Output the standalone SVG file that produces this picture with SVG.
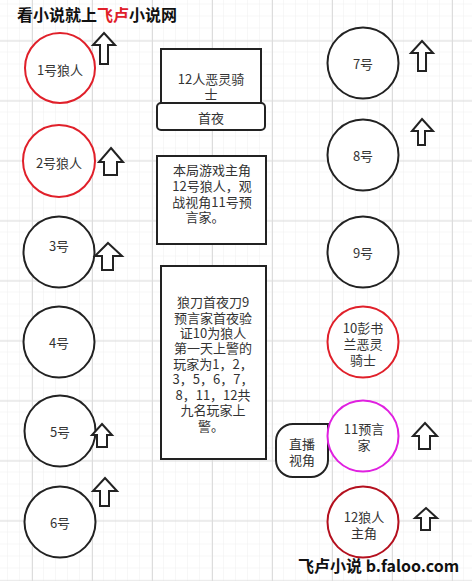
<svg xmlns="http://www.w3.org/2000/svg" width="472" height="581" viewBox="0 0 472 581">
<defs>
<pattern id="minor" width="12" height="12" patternUnits="userSpaceOnUse" x="8" y="4.5">
<path d="M12 0 V12 M0 12 H12" fill="none" stroke="#efefef" stroke-width="1"/>
</pattern>
<pattern id="major" width="60" height="60" patternUnits="userSpaceOnUse" x="32" y="40.5">
<path d="M0.5 0 V60 M0 0.5 H60" fill="none" stroke="#dcdcdc" stroke-width="1"/>
</pattern>
</defs>
<style>
.t{font-family:"Noto Sans CJK SC","Noto Sans",sans-serif;font-size:13px;fill:#333;text-anchor:middle;dominant-baseline:central}
.c{fill:#fff;stroke:#222;stroke-width:2}
.red{stroke:#e0202a}
.dred{stroke:#b4101e}
.mag{stroke:#e020e0}
.box{fill:#fff;stroke:#222;stroke-width:2}
.arr{fill:#fff;stroke:#222;stroke-width:2;stroke-linejoin:miter}
.title{font-family:"Noto Sans CJK SC",sans-serif;font-size:16px;font-weight:bold;fill:#111}
</style>
<rect width="472" height="581" fill="#fff"/>
<rect width="472" height="581" fill="url(#minor)"/>
<rect width="472" height="581" fill="url(#major)"/>

<text class="title" x="17" y="21">看小说就上<tspan fill="#e0202a">飞卢</tspan>小说网</text>

<g id="p1"><circle class="c red" cx="60" cy="68" r="35"/><text class="t" x="60" y="69">1号狼人</text></g>
<g id="p2"><circle class="c red" cx="59" cy="161" r="36"/><text class="t" x="59" y="162">2号狼人</text></g>
<g id="p3"><circle class="c" cx="59" cy="252" r="35.5"/><text class="t" x="59" y="245">3号</text></g>
<g id="p4"><circle class="c" cx="59" cy="342" r="35.5"/><text class="t" x="59" y="342">4号</text></g>
<g id="p5"><circle class="c" cx="60" cy="431" r="35.5"/><text class="t" x="60" y="431">5号</text></g>
<g id="p6"><circle class="c" cx="60" cy="522" r="35.5"/><text class="t" x="60" y="522">6号</text></g>

<g id="p7"><circle class="c" cx="363" cy="63" r="35.5"/><text class="t" x="363" y="63">7号</text></g>
<g id="p8"><circle class="c" cx="363" cy="155" r="35.5"/><text class="t" x="363" y="155">8号</text></g>
<g id="p9"><circle class="c" cx="363" cy="252" r="35.5"/><text class="t" x="363" y="252">9号</text></g>
<g id="p10"><circle class="c red" cx="363" cy="342" r="35.5"/><text class="t" x="363" y="327">10彭书</text><text class="t" x="363" y="343">兰恶灵</text><text class="t" x="363" y="359">骑士</text></g>
<g id="live"><path class="c" d="M328 424 L328 460 A17 17 0 0 1 311 477 L293 477 A17 17 0 0 1 276 460 L276 441 A17 17 0 0 1 293 424 Z"/><text class="t" x="302" y="443">直播</text><text class="t" x="302" y="459">视角</text></g>
<g id="p11"><circle class="c mag" cx="363" cy="436" r="35.5"/><text class="t" x="364" y="428">11预言</text><text class="t" x="364" y="444">家</text></g>
<g id="p12"><circle class="c dred" cx="363" cy="522" r="35.5"/><text class="t" x="364" y="516">12狼人</text><text class="t" x="364" y="532">主角</text></g>

<g id="boxA"><rect class="box" x="161" y="49" width="100" height="58"/><text class="t" x="211" y="78">12人恶灵骑</text><text class="t" x="211" y="93">士</text></g>
<g id="boxB"><rect class="box" x="157" y="103" width="108" height="27" rx="4"/><text class="t" x="211" y="117">首夜</text></g>
<g id="boxC"><rect class="box" x="157" y="156" width="109" height="88"/>
<text class="t" x="212" y="169">本局游戏主角</text>
<text class="t" x="212" y="185">12号狼人，观</text>
<text class="t" x="212" y="201">战视角11号预</text>
<text class="t" x="205" y="216">言家。</text></g>
<g id="boxD"><rect class="box" x="161" y="266" width="105" height="193"/>
<text class="t" x="213" y="301">狼刀首夜刀9</text>
<text class="t" x="213" y="317">预言家首夜验</text>
<text class="t" x="213" y="332">证10为狼人</text>
<text class="t" x="213" y="347">第一天上警的</text>
<text class="t" x="213" y="363">玩家为1，2，</text>
<text class="t" x="213" y="378">3，5，6，7，</text>
<text class="t" x="213" y="394">8，11，12共</text>
<text class="t" x="213" y="409">九名玩家上</text>
<text class="t" x="211" y="425">警。</text></g>

<g id="arrows">
<path class="arr" d="M104 33 L115 45 L108 45 L108 64 L100 64 L100 45 L93 45 Z"/>
<path class="arr" d="M111 148 L123 162 L117 162 L117 175 L104 175 L104 162 L99 162 Z"/>
<path class="arr" d="M108 243 L122 256 L113 256 L113 270 L102 270 L102 256 L95 256 Z"/>
<path class="arr" d="M102 424 L112 435 L107 435 L107 447 L97 447 L97 435 L92 435 Z"/>
<path class="arr" d="M105 478 L117 491 L109 491 L109 506 L100 506 L100 491 L93 491 Z"/>
<path class="arr" d="M422 41 L433 53 L426 53 L426 71 L418 71 L418 53 L411 53 Z"/>
<path class="arr" d="M422 119 L433 131 L425 131 L425 145 L418 145 L418 131 L412 131 Z"/>
<path class="arr" d="M425 423 L437 436 L430 436 L430 449 L419 449 L419 436 L413 436 Z"/>
<path class="arr" d="M426 508 L437 518 L430 518 L430 530 L421 530 L421 518 L415 518 Z"/>
</g>

<text class="title" x="298" y="572">飞卢小说  b.faloo.com</text>
</svg>
